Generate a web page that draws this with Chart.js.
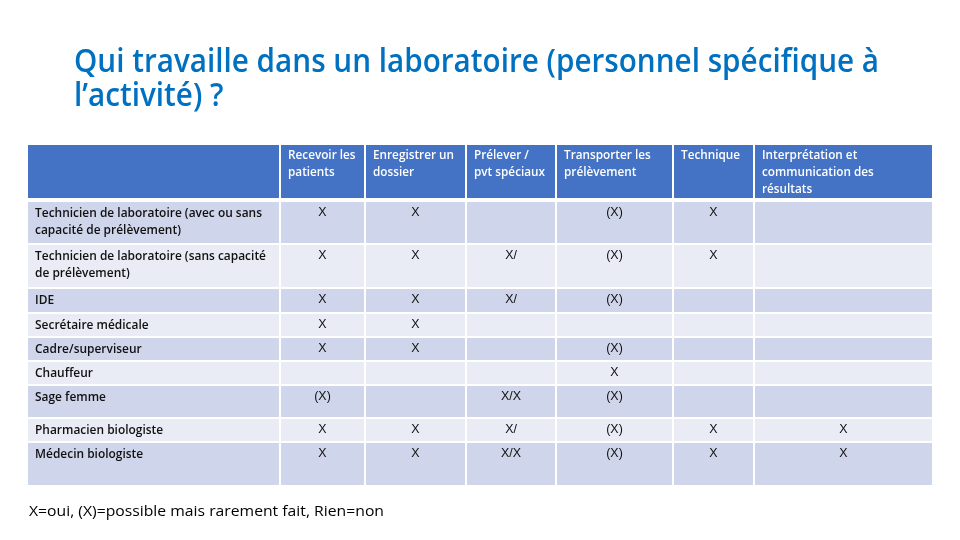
<!DOCTYPE html>
<html lang="fr">
<head>
    <meta charset="UTF-8">
    <title>Qui travaille dans un laboratoire</title>
    <script src="https://cdn.jsdelivr.net/npm/chart.js"></script>
    <style>
        html, body { margin: 0; padding: 0; background: #fff; overflow: hidden; }
        #wrap { width: 960px; height: 540px; }
    </style>
</head>
<body>
    <div id="wrap">
        <canvas id="tableChart" width="960" height="540"></canvas>
    </div>

    <script>
        // Table content
        const titleLines = ['Qui travaille dans un laboratoire (personnel spécifique à', 'l’activité) ?'];
        const headers = [
            ['Recevoir les', 'patients'],
            ['Enregistrer un', 'dossier'],
            ['Prélever /', 'pvt spéciaux'],
            ['Transporter les', 'prélèvement'],
            ['Technique'],
            ['Interprétation et', 'communication des', 'résultats']
        ];
        const roles = [
            ['Technicien de laboratoire (avec ou sans', 'capacité de prélèvement)'],
            ['Technicien de laboratoire (sans capacité', 'de prélèvement)'],
            ['IDE'],
            ['Secrétaire médicale'],
            ['Cadre/superviseur'],
            ['Chauffeur'],
            ['Sage femme'],
            ['Pharmacien biologiste'],
            ['Médecin biologiste']
        ];
        const recevoir       = ['X', 'X', 'X', 'X', 'X', '', '(X)', 'X', 'X'];
        const enregistrer    = ['X', 'X', 'X', 'X', 'X', '', '', 'X', 'X'];
        const prelever       = ['', 'X/', 'X/', '', '', '', 'X/X', 'X/', 'X/X'];
        const transporter    = ['(X)', '(X)', '(X)', '', '(X)', 'X', '(X)', '(X)', '(X)'];
        const technique      = ['X', 'X', '', '', '', '', '', 'X', 'X'];
        const interpretation = ['', '', '', '', '', '', '', 'X', 'X'];
        const columnValues = [recevoir, enregistrer, prelever, transporter, technique, interpretation];
        const legendText = 'X=oui, (X)=possible mais rarement fait, Rien=non';

        // Layout (scale units) - grid edges of the table
        const colEdges = [28, 280, 365, 466, 556, 673, 754, 932];
        const rowEdges = [145, 200, 244, 288, 313, 337, 361, 385, 418, 442, 485];

        const colors = {
            title: '#0070C0',
            header: '#4472C4',
            dark: '#CFD5EA',
            light: '#E9EBF5',
            text: '#111111'
        };

        // narrow fonts: squeeze a common font to the width of the original text
        function makeStyle(ctx, font, color, sample, width) {
            ctx.font = font;
            return { font: font, color: color, sx: width / ctx.measureText(sample).width };
        }

        function drawText(ctx, str, x, y, style, align, baseline) {
            ctx.save();
            ctx.font = style.font;
            ctx.fillStyle = style.color;
            ctx.textAlign = align || 'left';
            ctx.textBaseline = baseline || 'middle';
            ctx.translate(x, y);
            ctx.scale(style.sx, 1);
            ctx.fillText(str, 0, 0);
            ctx.restore();
        }

        const tablePlugin = {
            id: 'tablePlugin',
            afterDraw(chart) {
                const ctx = chart.ctx;
                const xs = chart.scales.x, ys = chart.scales.y;
                const px = v => xs.getPixelForValue(v);
                const py = v => ys.getPixelForValue(v);

                const sTitle = makeStyle(ctx, '600 32px "Open Sans"', colors.title, titleLines[0], 805);
                const sHead = makeStyle(ctx, '600 12.5px "Open Sans"', '#ffffff', 'Enregistrer un', 81);
                const sRole = makeStyle(ctx, '600 12.5px "Open Sans"', colors.text, roles[0][0], 227);
                const sVal = makeStyle(ctx, '12px "Liberation Sans"', colors.text, 'X/X', 20);
                const sLegend = makeStyle(ctx, '15px "Open Sans"', '#000000', legendText, 355);

                // title
                drawText(ctx, titleLines[0], px(74), py(72), sTitle, 'left', 'alphabetic');
                drawText(ctx, titleLines[1], px(74), py(106), sTitle, 'left', 'alphabetic');

                const nRows = rowEdges.length - 1;
                const nCols = colEdges.length - 1;
                for (let r = 0; r < nRows; r++) {
                    const top = rowEdges[r] + (r === 0 ? 0 : (r === 1 ? 2 : 1));
                    const bottom = rowEdges[r + 1] - (r === nRows - 1 ? 0 : (r === 0 ? 2 : 1));
                    const fill = r === 0 ? colors.header : (r % 2 === 1 ? colors.dark : colors.light);
                    for (let c = 0; c < nCols; c++) {
                        const left = colEdges[c] + (c === 0 ? 0 : 1);
                        const right = colEdges[c + 1] - (c === nCols - 1 ? 0 : 1);
                        ctx.fillStyle = fill;
                        ctx.fillRect(px(left), py(top), px(right) - px(left), py(bottom) - py(top));

                        if (r === 0) {
                            if (c > 0) {
                                headers[c - 1].forEach((line, i) => {
                                    drawText(ctx, line, px(left + 7), py(top + 10 + 17 * i), sHead);
                                });
                            }
                        } else if (c === 0) {
                            roles[r - 1].forEach((line, i) => {
                                drawText(ctx, line, px(left + 7), py(top + 11 + 17 * i), sRole);
                            });
                        } else {
                            const v = columnValues[c - 1][r - 1];
                            if (v) drawText(ctx, v, px((left + right) / 2), py(top + 11), sVal, 'center');
                        }
                    }
                }

                // legend line below the table
                drawText(ctx, legendText, px(29), py(512), sLegend);
            }
        };

        new Chart(document.getElementById('tableChart'), {
            type: 'scatter',
            data: { datasets: [] },
            options: {
                responsive: false,
                animation: false,
                devicePixelRatio: 1,
                events: [],
                layout: { padding: 0 },
                scales: {
                    x: { type: 'linear', min: 0, max: 960, display: false },
                    y: { type: 'linear', min: 0, max: 540, reverse: true, display: false }
                },
                plugins: {
                    legend: { display: false },
                    tooltip: { enabled: false }
                }
            },
            plugins: [tablePlugin]
        });
    </script>
</body>
</html>
